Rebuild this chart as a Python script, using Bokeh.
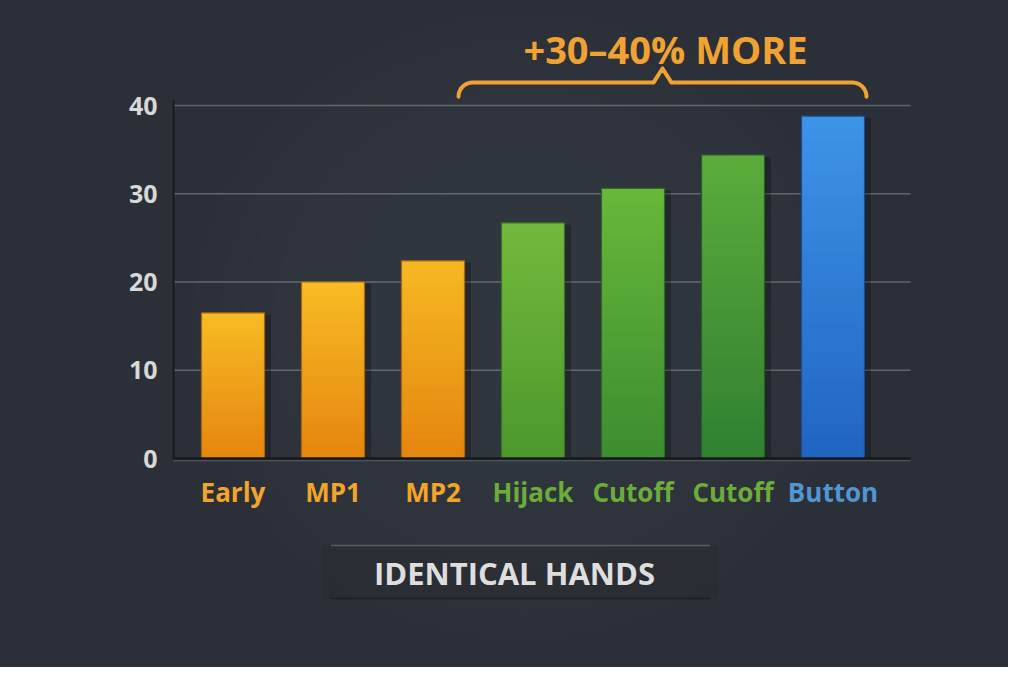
import numpy as np
from bokeh.plotting import figure
from bokeh.models import ColumnDataSource, FixedTicker, Range1d
from bokeh.core.properties import value
from bokeh.embed import file_html
from bokeh.resources import INLINE

# ---- data ----
categories = ["Early", "MP1", "MP2", "Hijack", "Cutoff", "Cutoff", "Button"]
values = [16.5, 20.0, 22.4, 26.7, 30.6, 34.4, 38.8]
bar_top_colors = ["#f7bc24", "#f7bc24", "#f6b922", "#74b93c", "#68b83a", "#5cac3c", "#3d94e8"]
bar_bottom_colors = ["#e5850f", "#e5850f", "#e5850f", "#4c982d", "#3b8d30", "#2f8030", "#2164c2"]
label_colors = ["#f2a52a", "#f2a52a", "#f2a52a", "#6cac38", "#6cac38", "#6cac38", "#5096d2"]
y_ticks = [0, 10, 20, 30, 40]
annotation_text = "+30\u201340% MORE"
footer_text = "IDENTICAL HANDS"

FONT = "Open Sans"
BG = "#2b2f37"

x = list(range(len(categories)))

p = figure(width=1008, height=667, output_backend="svg", toolbar_location=None,
           x_range=Range1d(-0.605, 7.755), y_range=Range1d(-23.68, 51.9),
           min_border_left=172, min_border_right=0, min_border_top=0, min_border_bottom=0)
p.background_fill_color = BG
p.border_fill_color = BG
p.styles = {"background-color": BG}
p.outline_line_color = None
p.xaxis.visible = False
p.xgrid.visible = False
p.ygrid.visible = False

yax = p.yaxis[0]
yax.ticker = FixedTicker(ticks=y_ticks)
yax.axis_line_color = None
yax.major_tick_line_color = None
yax.major_tick_out = 0
yax.major_tick_in = 0
yax.minor_tick_line_color = None
yax.major_label_text_color = "#d8d8d8"
yax.major_label_text_font = FONT
yax.major_label_text_font_style = "bold"
yax.major_label_text_font_size = "25px"
yax.major_label_standoff = 15

# soft vignette (lighter centre)
for w_ in [660, 610, 560, 500, 440, 380, 320]:
    p.ellipse(x=[2.9], y=[15.0], width=w_, height=w_ * 0.95, width_units="screen",
              height_units="screen", fill_color="#50555f", fill_alpha=0.045, line_color=None)

# gridlines
grid_vals = [t for t in y_ticks if t > 0]
p.segment(x0=[-0.595] * len(grid_vals), x1=[6.775] * len(grid_vals), y0=grid_vals, y1=grid_vals,
          line_color="#a4a8ae", line_alpha=0.45, line_width=1.5)

# bar shadows
p.vbar(x=[xi + 0.05 for xi in x], top=[v - 0.2 for v in values], bottom=0, width=0.66,
       fill_color="#000000", fill_alpha=0.25, line_color=None)

# gradient bars (stacked overlapping slices of each bar)
def mix(c1, c2, t):
    a = [int(c1[i:i + 2], 16) for i in (1, 3, 5)]
    b = [int(c2[i:i + 2], 16) for i in (1, 3, 5)]
    return "#%02x%02x%02x" % tuple(int(round(a[k] + (b[k] - a[k]) * t)) for k in range(3))

N = 30
sx, sb, st, sc = [], [], [], []
for i, v in enumerate(values):
    for j in range(N):
        sx.append(x[i])
        sb.append(v * j / N)
        st.append(min(v, v * (j + 1) / N + 0.25))
        sc.append(mix(bar_bottom_colors[i], bar_top_colors[i], (j + 0.5) / N))
p.vbar(x="x", bottom="b", top="t", width=0.63, fill_color="c", line_color=None,
       source=ColumnDataSource(dict(x=sx, b=sb, t=st, c=sc)))

# bar outline
src = ColumnDataSource(dict(x=x, top=values, cat=categories, lc=label_colors,
                            edge=[mix(c, "#000000", 0.25) for c in bar_bottom_colors]))
p.vbar(x="x", top="top", bottom=0, width=0.63, fill_color=None, line_color="edge",
       line_width=1.2, source=src)

# axis lines
p.segment(x0=[-0.595], x1=[-0.595], y0=[0], y1=[40.6], line_color="#16181b", line_width=2)
p.segment(x0=[-0.595], x1=[6.775], y0=[0], y1=[0], line_color="#17191c", line_width=2.5)
p.segment(x0=[-0.595], x1=[6.775], y0=[-0.25], y1=[-0.25], line_color="#5a5e66", line_width=1)

# category labels
p.text(x="x", y=-3.74, text="cat", text_color="lc", text_font=value(FONT),
       text_font_style="bold", text_font_size="26px", text_align="center",
       text_baseline="middle", source=src)

# brace + annotation
bx0, bx1 = 2.255, 6.335
bxc = (bx0 + bx1) / 2
yb, ym, yt = 41.0, 42.6, 44.2
rx = 0.14
t = np.linspace(0, np.pi / 2, 12)
lx = bx0 + rx * (1 - np.cos(t))
ly = ym - (ym - yb) * (1 - np.sin(t))
bxs = list(lx) + [bxc - 0.09, bxc, bxc + 0.09] + list((bx1 - (lx - bx0))[::-1])
bys = list(ly) + [ym, yt, ym] + list(ly[::-1])
p.line(bxs, bys, line_color="#f0a232", line_width=4, line_cap="round", line_join="round")
p.text(x=[4.325], y=[46.46], text=[annotation_text], text_color="#f0a232",
       text_font=value(FONT), text_font_style="bold", text_font_size="38px",
       text_align="center", text_baseline="middle")

# footer band
p.quad(left=[0.895], right=[4.855], bottom=[-15.86], top=[-9.86],
       fill_color="#24272c", fill_alpha=0.3, line_color=None)
p.segment(x0=[0.98], x1=[4.77], y0=[-9.86], y1=[-9.86], line_color="#7a7e86", line_alpha=0.6, line_width=1.5)
p.segment(x0=[0.98], x1=[4.77], y0=[-15.86], y1=[-15.86], line_color="#1a1c20", line_alpha=0.8, line_width=1.5)
p.text(x=[2.815], y=[-12.92], text=[footer_text], text_color="#dedede",
       text_font=value(FONT), text_font_style="bold", text_font_size="31px",
       text_align="center", text_baseline="middle")

open("out.html", "w").write(file_html(p, INLINE))
